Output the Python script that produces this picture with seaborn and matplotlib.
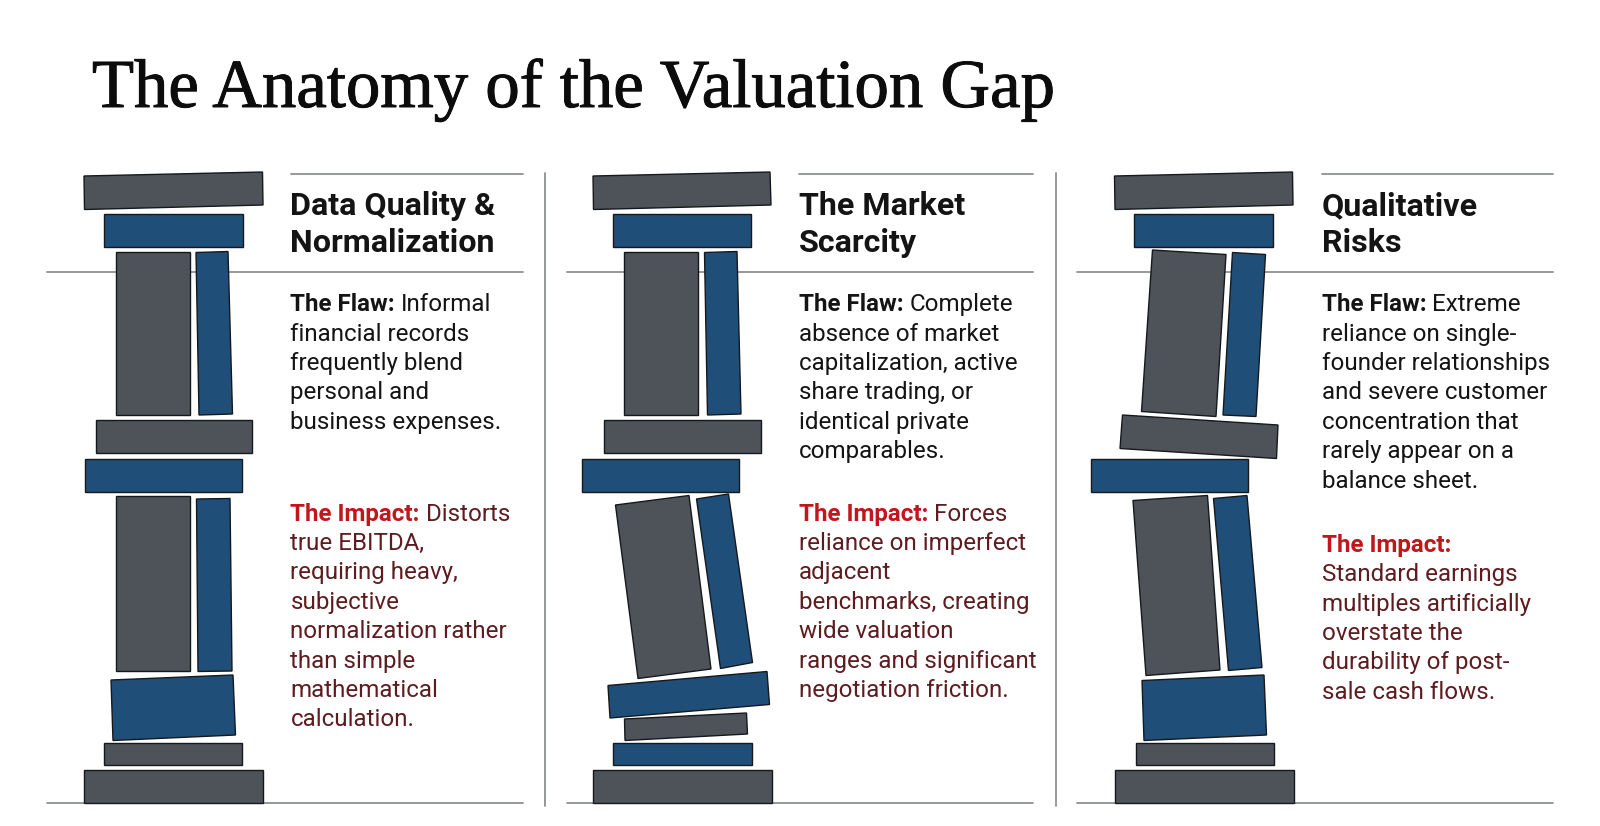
import matplotlib
matplotlib.use("Agg")
import matplotlib.pyplot as plt
import matplotlib.patheffects as pe
import seaborn as sns

# block outlines per pillar (x list, y list, colour)
PILLAR_1 = [
    ([84, 262.5, 263, 84.5], [176, 172, 205, 209.5], "grey"),
    ([104, 242.5, 242.5, 104], [213.5, 213.5, 246.5, 246.5], "blue"),
    ([116, 190, 190, 116], [252, 252, 415, 415], "grey"),
    ([196, 228, 232.5, 199], [252.5, 251.5, 414, 415], "blue"),
    ([95.5, 252, 252, 95.5], [420, 420, 453, 453], "grey"),
    ([85, 242, 242, 85], [458.5, 458.5, 491.5, 491.5], "blue"),
    ([115.5, 190, 190, 115.5], [495.5, 495.5, 671, 671], "grey"),
    ([196.5, 230, 232, 198], [499, 498.5, 671, 671.5], "blue"),
    ([111, 233, 235.5, 113], [680, 675, 735, 740.5], "blue"),
    ([104, 242, 242, 104], [743, 743, 765, 765], "grey"),
    ([83.5, 262.5, 262.5, 83.5], [770, 770, 803, 803], "grey"),
]
PILLAR_2 = [
    ([593, 770, 771, 593.5], [176, 172, 205, 209.5], "grey"),
    ([613, 751, 751, 613], [213.5, 213.5, 246.5, 246.5], "blue"),
    ([624, 698, 698, 624], [252, 252, 415, 415], "grey"),
    ([704.5, 737, 741, 707.5], [252.5, 251.5, 414, 415], "blue"),
    ([604, 761, 761, 604], [420, 420, 453, 453], "grey"),
    ([581.5, 738.5, 738.5, 581.5], [458.5, 458.5, 491.5, 491.5], "blue"),
    ([615.5, 689, 711, 638], [505, 495.5, 669, 678.5], "grey"),
    ([696.5, 728.5, 752.5, 720.5], [499, 494, 662.5, 668.5], "blue"),
    ([608, 767, 769.5, 610], [685.5, 671.5, 704.5, 718], "blue"),
    ([624.5, 746.5, 747.5, 625], [719, 713, 734, 740.5], "grey"),
    ([613, 751.5, 751.5, 613], [743, 743, 765, 765], "blue"),
    ([593, 772, 772, 593], [770, 770, 803, 803], "grey"),
]
PILLAR_3 = [
    ([1114.5, 1292.5, 1293, 1115], [176, 172, 205, 209.5], "grey"),
    ([1134, 1272.5, 1272.5, 1134], [213.5, 213.5, 246.5, 246.5], "blue"),
    ([1152.5, 1226, 1216, 1141.5], [250, 254.5, 416.5, 411.5], "grey"),
    ([1232.5, 1265.5, 1256, 1223], [252.5, 254.5, 416.5, 415], "blue"),
    ([1122.5, 1278, 1276.5, 1120], [415, 425, 458.5, 448.5], "grey"),
    ([1091, 1248, 1248, 1091], [458.5, 458.5, 491.5, 491.5], "blue"),
    ([1133, 1207.5, 1220, 1146], [500.5, 495.5, 670, 675.5], "grey"),
    ([1213.5, 1247, 1262, 1228.5], [498.5, 495.5, 667.5, 670.5], "blue"),
    ([1142, 1264, 1266.5, 1144], [680.5, 675, 735, 740.5], "blue"),
    ([1136, 1273.5, 1273.5, 1136], [743, 743, 765, 765], "grey"),
    ([1115, 1294, 1294, 1115], [770, 770, 803, 803], "grey"),
]

TITLE = "The Anatomy of the Valuation Gap"
HEADINGS = [
    ["Data Quality &", "Normalization"],
    ["The Market", "Scarcity"],
    ["Qualitative", "Risks"],
]
FLAW_TEXT = [
    ["Informal", "financial records", "frequently blend", "personal and", "business expenses."],
    ["Complete", "absence of market", "capitalization, active", "share trading, or",
     "identical private", "comparables."],
    ["Extreme", "reliance on single-", "founder relationships", "and severe customer",
     "concentration that", "rarely appear on a", "balance sheet."],
]
IMPACT_TEXT = [
    ["Distorts", "true EBITDA,", "requiring heavy,", "subjective", "normalization rather",
     "than simple", "mathematical", "calculation."],
    ["Forces", "reliance on imperfect", "adjacent", "benchmarks, creating", "wide valuation",
     "ranges and significant", "negotiation friction."],
    ["", "Standard earnings", "multiples artificially", "overstate the",
     "durability of post-", "sale cash flows."],
]
TEXT_X = [290.5, 799, 1321.5]
FLAW_Y = 311.2
IMPACT_Y = [520.7, 520.7, 551.7]
RULE_LEFT = [46.5, 567, 1077]
RULE_RIGHT = [522.5, 1033, 1553]
DIVIDER_X = [544.5, 1055.5]

GREY, BLUE = sns.color_palette(["#4d5359", "#1f4e79"])
COLOURS = {"grey": GREY, "blue": BLUE}
RULE = "#8e9194"
INK = "#141414"
RED = "#c2161c"
MAROON = "#5f1c20"
BODY_SIZE = 17.35
HEAD_SIZE = 23.2

sns.set_theme(style="white")
plt.rcParams["font.family"] = ["Roboto", "DejaVu Sans"]

fig = plt.figure(figsize=(16, 8.26), dpi=100)
ax = fig.add_axes([0, 0, 1, 1])
ax.set_xlim(0, 1600)
ax.set_ylim(826, 0)
ax.axis("off")


def draw_lead(x, y, lead, rest, lead_colour, rest_colour):
    # bold run-in label, then the regular text right after it
    t = ax.text(x, y, lead, fontsize=BODY_SIZE, fontweight="bold", color=lead_colour, va="baseline")
    box = t.get_window_extent(fig.canvas.get_renderer())
    if rest:
        ax.text(box.x1 + 6, y, rest, fontsize=BODY_SIZE, color=rest_colour, va="baseline")


# ----- rules -----
for i in range(3):
    ax.plot([RULE_LEFT[i], RULE_RIGHT[i]], [271.5, 271.5], color=RULE, lw=1.3, zorder=1)
    ax.plot([RULE_LEFT[i], RULE_RIGHT[i]], [803, 803], color=RULE, lw=1.3, zorder=1)
    ax.plot([TEXT_X[i], RULE_RIGHT[i]], [173.5, 173.5], color=RULE, lw=1.3, zorder=1)
for x in DIVIDER_X:
    ax.plot([x, x], [173, 806], color=RULE, lw=1.3, zorder=1)

# ----- pillars -----
for pillar in (PILLAR_1, PILLAR_2, PILLAR_3):
    for xs, ys, name in pillar:
        ax.fill(xs, ys, facecolor=COLOURS[name], edgecolor="#16191c", lw=1.0, zorder=2)

# ----- text -----
title = ax.text(92, 107, TITLE, fontsize=49.5, family="Liberation Serif", color="#0c0c0c", va="baseline")
# the original face is a bit heavier than Liberation Serif
title.set_path_effects([pe.withStroke(linewidth=0.7, foreground="#0c0c0c")])

for i in range(3):
    x = TEXT_X[i]
    ax.text(x, 215, HEADINGS[i][0], fontsize=HEAD_SIZE, fontweight="bold", color=INK, va="baseline")
    ax.text(x, 251.5, HEADINGS[i][1], fontsize=HEAD_SIZE, fontweight="bold", color=INK, va="baseline")

    draw_lead(x, FLAW_Y, "The Flaw:", FLAW_TEXT[i][0], INK, INK)
    for n, line in enumerate(FLAW_TEXT[i][1:], start=1):
        ax.text(x, FLAW_Y + n * 29.4, line, fontsize=BODY_SIZE, color=INK, va="baseline")

    draw_lead(x, IMPACT_Y[i], "The Impact:", IMPACT_TEXT[i][0], RED, MAROON)
    for n, line in enumerate(IMPACT_TEXT[i][1:], start=1):
        ax.text(x, IMPACT_Y[i] + n * 29.4, line, fontsize=BODY_SIZE, color=MAROON, va="baseline")

fig.savefig("out.png", dpi=100, facecolor="white")
